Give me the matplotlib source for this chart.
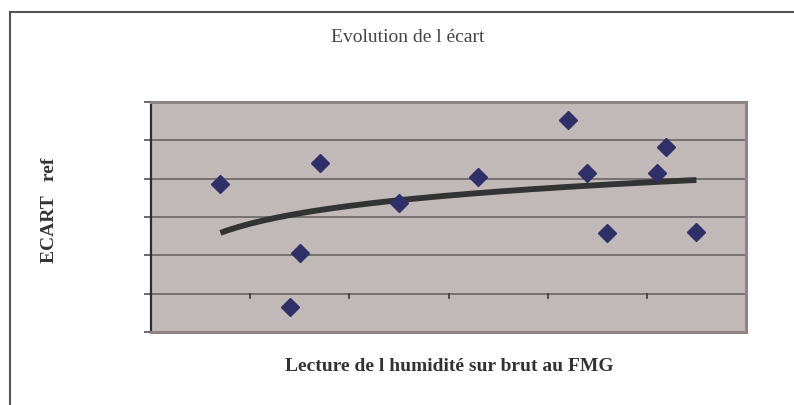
import numpy as np
import matplotlib
matplotlib.use("Agg")
import matplotlib.pyplot as plt
from matplotlib.lines import Line2D

title = "Evolution de l écart"
xlabel = "Lecture de l humidité sur brut au FMG"
ylabel = "ECART   ref"

x_vals = [0.70, 1.40, 1.50, 1.70, 2.50, 3.30, 4.20, 4.40, 4.60, 5.10, 5.19, 5.50]
y_vals = [2.86, -0.34, 1.07, 3.41, 2.36, 3.04, 4.53, 3.14, 1.57, 3.14, 3.83, 1.62]

fig = plt.figure(figsize=(7.94, 4.06), dpi=100)
W, H = 794, 406
left, right, top, bottom = 151, 746, 103, 333
ax = fig.add_axes([left / W, 1 - bottom / H, (right - left) / W, (bottom - top) / H])
ax.set_facecolor("#C1B9B7")

ax.set_xlim(0, 6)
ax.set_ylim(-1, 5)

# gridlines
for yv in range(-1, 6):
    ax.axhline(yv, color="#625D5D", lw=1.1, zorder=1)

# horizontal axis at y=0 with tick marks
for xv in range(1, 7):
    ax.plot([xv, xv], [0, -0.12], color="#3A3636", lw=1.2, zorder=2, clip_on=False)

ax.set_xticks([])
ax.set_yticks(range(-1, 6))
ax.set_yticklabels([])
ax.tick_params(axis="y", length=5, width=1.2, color="#555050", direction="out")

for s in ["top", "right", "bottom"]:
    ax.spines[s].set_color("#8E8484")
    ax.spines[s].set_linewidth(2.2)
ax.spines["left"].set_color("#2F2C2C")
ax.spines["left"].set_linewidth(1.6)

# logarithmic trend line (least squares on ln x)
xa = np.array(x_vals)
ya = np.array(y_vals)
a, b = np.polyfit(np.log(xa), ya, 1)
xt = np.linspace(xa.min(), xa.max(), 200)
ax.plot(xt, a * np.log(xt) + b, color="#333333", lw=4.2, zorder=3, solid_capstyle="butt")

ax.plot(x_vals, y_vals, linestyle="none", marker="D", markersize=9.5,
        color="#2F3068", zorder=4)

serif = ["Liberation Serif", "DejaVu Serif"]
fig.text(408 / W, 1 - 37 / H, title, ha="center", va="center",
         fontsize=14, color="#444444", family=serif)
fig.text(449 / W, 1 - 367 / H, xlabel, ha="center", va="center",
         fontsize=14, fontweight="bold", color="#333333", family=serif)
fig.text(50 / W, 1 - 210 / H, ylabel, ha="center", va="center", rotation=90,
         fontsize=14, fontweight="bold", color="#333333", family=serif)

# outer chart frame
fig.add_artist(Line2D([10 / W, 10 / W], [0, 1 - 13 / H], transform=fig.transFigure,
                      color="#555555", lw=1.5))
fig.add_artist(Line2D([10 / W, 1], [1 - 13 / H, 1 - 13 / H], transform=fig.transFigure,
                      color="#555555", lw=1.5))

fig.savefig("out.png", dpi=100)
